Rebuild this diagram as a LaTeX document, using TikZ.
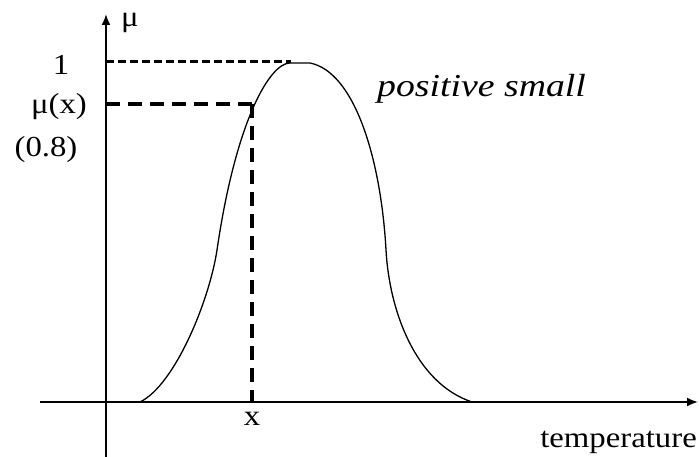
\documentclass[tikz,border=0pt]{standalone}
\usepackage{fontspec}
\setmainfont{Liberation Serif}
\usetikzlibrary{arrows.meta}
\newcommand{\wide}[1]{\scalebox{1.13}[1]{#1}}
\begin{document}
\begin{tikzpicture}[x=1pt,y=-1pt,
  axis/.style={line width=1.8pt,-{Latex[length=11pt,width=9pt]}},
  curve/.style={line width=1.3pt},
  dotline/.style={line width=3pt,dash pattern=on 8pt off 4pt},
  dashline/.style={line width=3.2pt,dash pattern=on 14pt off 8pt},
  lbl/.style={inner sep=0pt,font=\fontsize{29}{35}\selectfont}]
\useasboundingbox (0,0) rectangle (699,457);
\coordinate (ystart) at (106,457);
\coordinate (ytip) at (106,14);
\coordinate (xstart) at (40,402);
\coordinate (xtip) at (698,402);
\coordinate (top) at (291,62);
\coordinate (ytop) at (106,62);
\coordinate (px) at (252,104);
\coordinate (ypx) at (106,104);
\coordinate (xx) at (252,402);
\coordinate (c0) at (140,402);
\coordinate (c1) at (217,250);
\coordinate (c2) at (290,63);
\coordinate (c3) at (310,63);
\coordinate (c4) at (386,250);
\coordinate (c5) at (472,402);
\draw[axis] (ystart) -- (ytip);
\draw[axis] (xstart) -- (xtip);
\draw[curve] (c0) .. controls (175,385) and (209.5,300) .. (c1)
  .. controls (236,120) and (270,63) .. (c2) -- (c3)
  .. controls (355,72) and (381,160) .. (c4)
  .. controls (389.3,310) and (415,383) .. (c5);
\draw[dotline] (ytop) -- (top);
\draw[dashline] (ypx) -- (px);
\draw[dashline] (px) -- (xx);
\node[lbl,anchor=base west] (mu) at (121,27) {\wide{μ}};
\node[lbl,anchor=base] (one) at (61,75) {\wide{1}};
\node[lbl,anchor=base] (mux) at (59,114) {\wide{μ(x)}};
\node[lbl,anchor=base] (val) at (46,157) {\wide{(0.8)}};
\node[lbl,anchor=base west,font=\fontsize{32}{38}\selectfont\itshape] (ps) at (377,97) {\scalebox{1.18}[1]{positive small}};
\node[lbl,anchor=base] (xl) at (252,425) {\wide{x}};
\node[lbl,anchor=base east] (temp) at (697,447) {\wide{temperature}};
\end{tikzpicture}
\end{document}
